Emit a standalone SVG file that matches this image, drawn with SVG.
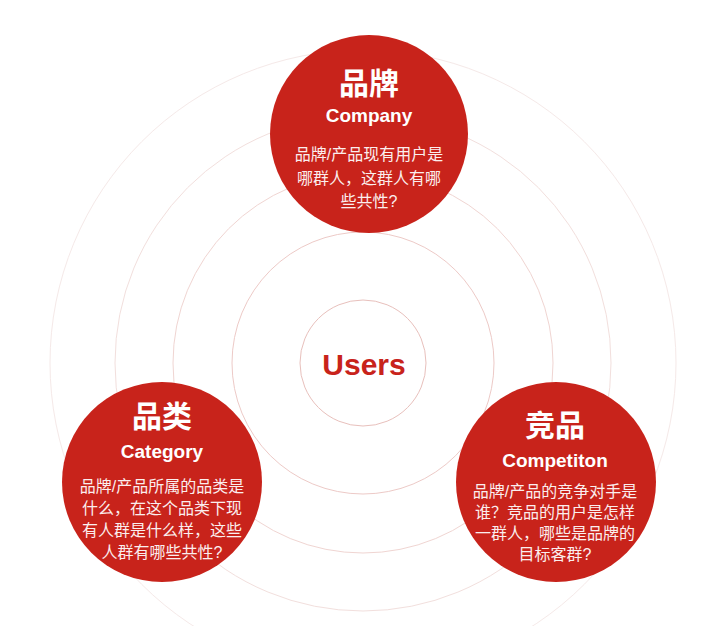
<svg xmlns="http://www.w3.org/2000/svg" width="704" height="626" viewBox="0 0 704 626">
  <style>
    .ring { fill: none; stroke-width: 1; }
    .bubble { fill: #c8231b; }
    .title { font-family: "Noto Sans CJK SC", "Liberation Sans", sans-serif; font-weight: 700; font-size: 30px; fill: #ffffff; text-anchor: middle; }
    .sub { font-family: "Liberation Sans", Arial, sans-serif; font-weight: 700; font-size: 19px; fill: #ffffff; text-anchor: middle; }
    .body { font-family: "Liberation Sans", "Noto Sans CJK SC", sans-serif; font-size: 16px; fill: #fbeeee; text-anchor: middle; }
    .center { font-family: "Liberation Sans", Arial, sans-serif; font-weight: 700; font-size: 30px; fill: #c8231b; text-anchor: middle; }
  </style>
  <rect width="704" height="626" fill="#ffffff"/>
  <g id="rings">
    <circle class="ring" cx="363" cy="363" r="313" stroke="#f5e9e8"/>
    <circle class="ring" cx="363" cy="363" r="248" stroke="#f2dfdd"/>
    <circle class="ring" cx="363" cy="363" r="190" stroke="#f0d5d2"/>
    <circle class="ring" cx="363" cy="363" r="131" stroke="#edcac7"/>
    <circle class="ring" cx="363" cy="363" r="63" stroke="#e8c0bc"/>
  </g>
  <g id="connectors"></g>
  <g id="users">
    <text class="center" x="364" y="375">Users</text>
  </g>
  <g id="company">
    <circle class="bubble" cx="369" cy="134" r="99"/>
    <text class="title" x="369" y="94">品牌</text>
    <text class="sub" x="369" y="122">Company</text>
    <text class="body" x="369" y="160">品牌/产品现有用户是</text>
    <text class="body" x="369" y="184">哪群人，这群人有哪</text>
    <text class="body" x="369" y="207">些共性?</text>
  </g>
  <g id="category">
    <circle class="bubble" cx="162" cy="482" r="100"/>
    <text class="title" x="162" y="427">品类</text>
    <text class="sub" x="162" y="458">Category</text>
    <text class="body" x="162" y="492">品牌/产品所属的品类是</text>
    <text class="body" x="162" y="514">什么，在这个品类下现</text>
    <text class="body" x="162" y="536">有人群是什么样，这些</text>
    <text class="body" x="162" y="558">人群有哪些共性?</text>
  </g>
  <g id="competitor">
    <circle class="bubble" cx="556" cy="482" r="100"/>
    <text class="title" x="555" y="436">竞品</text>
    <text class="sub" x="555" y="467">Competiton</text>
    <text class="body" x="555" y="497">品牌/产品的竞争对手是</text>
    <text class="body" x="555" y="518">谁？竞品的用户是怎样</text>
    <text class="body" x="555" y="539">一群人，哪些是品牌的</text>
    <text class="body" x="555" y="560">目标客群?</text>
  </g>
</svg>
